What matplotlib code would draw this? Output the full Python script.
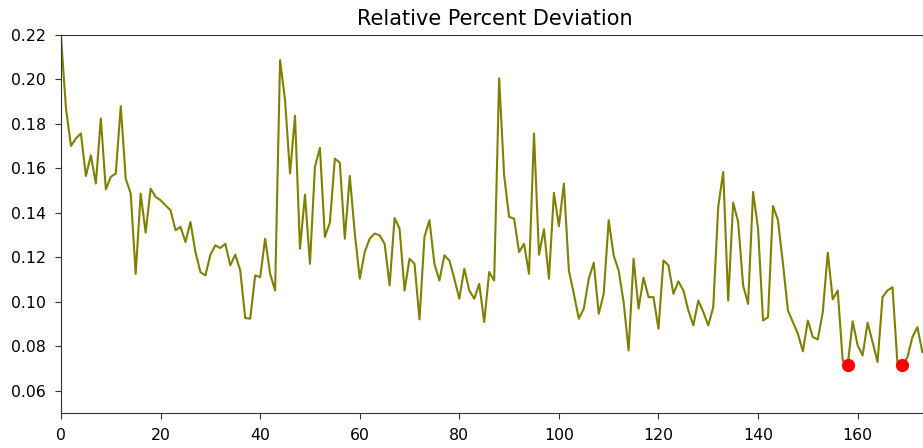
import numpy as np
import matplotlib
matplotlib.use("Agg")
import matplotlib.pyplot as plt

# relative percent deviation per iteration
rpd = [
    0.2192, 0.1870, 0.1701, 0.1735, 0.1757, 0.1566, 0.1659, 0.1532, 0.1825, 0.1506,
    0.1562, 0.1577, 0.1880, 0.1554, 0.1487, 0.1126, 0.1487, 0.1311, 0.1509, 0.1472,
    0.1457, 0.1434, 0.1412, 0.1322, 0.1337, 0.1269, 0.1359, 0.1224, 0.1134, 0.1119,
    0.1212, 0.1254, 0.1242, 0.1261, 0.1164, 0.1212, 0.1141, 0.0927, 0.0924, 0.1119,
    0.1111, 0.1284, 0.1126, 0.1051, 0.2087, 0.1907, 0.1577, 0.1837, 0.1239, 0.1482,
    0.1171, 0.1607, 0.1692, 0.1292, 0.1356, 0.1644, 0.1626, 0.1284, 0.1566, 0.1310,
    0.1104, 0.1224, 0.1284, 0.1307, 0.1299, 0.1261, 0.1074, 0.1377, 0.1329, 0.1051,
    0.1194, 0.1171, 0.0921, 0.1292, 0.1367, 0.1171, 0.1096, 0.1209, 0.1186, 0.1104,
    0.1014, 0.1149, 0.1051, 0.1014, 0.1081, 0.0909, 0.1134, 0.1096, 0.2005, 0.1569,
    0.1382, 0.1374, 0.1224, 0.1261, 0.1126, 0.1757, 0.1212, 0.1326, 0.1104, 0.1490,
    0.1340, 0.1532, 0.1141, 0.1036, 0.0924, 0.0969, 0.1104, 0.1176, 0.0946, 0.1036,
    0.1367, 0.1209, 0.1141, 0.0999, 0.0781, 0.1194, 0.0969, 0.1109, 0.1021, 0.1021,
    0.0879, 0.1186, 0.1164, 0.1036, 0.1092, 0.1051, 0.0961, 0.0894, 0.1006, 0.0954,
    0.0894, 0.0976, 0.1427, 0.1584, 0.1006, 0.1446, 0.1359, 0.1074, 0.0991, 0.1494,
    0.1329, 0.0916, 0.0931, 0.1431, 0.1367, 0.1171, 0.0961, 0.0909, 0.0856, 0.0777,
    0.0916, 0.0841, 0.0831, 0.0954, 0.1221, 0.1011, 0.1051, 0.0736, 0.0715, 0.0912,
    0.0804, 0.0759, 0.0906, 0.0819, 0.0729, 0.1021, 0.1051, 0.1066, 0.0721, 0.0715,
    0.0751, 0.0841, 0.0886, 0.0774,
]
# iterations flagged as best
best_idx = [158, 169]

x = np.arange(len(rpd))
y = np.array(rpd)

fig = plt.figure(figsize=(9.23, 4.48), dpi=100)
ax = fig.add_axes([61 / 923, 35 / 448, 868 / 923, 378 / 448])
ax.plot(x, y, color="olive", linewidth=1.5)
ax.plot(x[best_idx], y[best_idx], "o", color="red", markersize=8.5)

ax.set_xlim(0, 868 / 4.979)
ax.set_ylim(0.05, 0.22)
ax.set_xticks(np.arange(0, 161, 20))
ax.set_yticks(np.arange(0.06, 0.221, 0.02))
ax.tick_params(labelsize=11.3, length=4.3, pad=6.5, color="#333333")
ax.set_title("Relative Percent Deviation", fontsize=15, pad=7)
for s in ax.spines.values():
    s.set_color("#333333")

fig.savefig("out.png", dpi=100)
